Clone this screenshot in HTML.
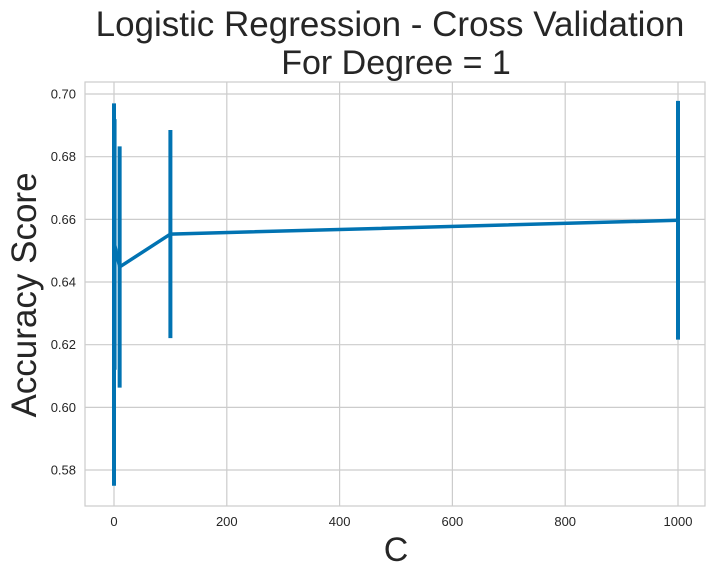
<!DOCTYPE html>
<html><head><meta charset="utf-8"><style>
body{margin:0;background:#fff;}
svg{display:block;font-family:"Liberation Sans",sans-serif;}
</style></head><body>
<svg id="chart" width="715" height="578">
<rect x="85" y="82" width="620" height="424" fill="#fff" stroke="#ccc" stroke-width="1.2"/>
<g id="grid"></g>
<g id="marks"></g>
<text x="390" y="36" font-size="35" text-anchor="middle" fill="#262626">Logistic Regression - Cross Validation</text>
<text x="396" y="74" font-size="34" text-anchor="middle" fill="#262626">For Degree = 1</text>
<text x="396" y="561" font-size="34" text-anchor="middle" fill="#262626">C</text>
<text transform="translate(36,295) rotate(-90)" font-size="35" text-anchor="middle" fill="#262626">Accuracy Score</text>
</svg>
<script>
const cValues=[0.001,0.01,0.1,1,10,100,1000];
const meanScores=[0.636,0.646,0.657,0.652,0.6448,0.6553,0.6597];
const errScores=[0.061,0.05,0.035,0.04,0.0385,0.0332,0.0381];
const xTicks=[0,200,400,600,800,1000];
const yTicks=[0.58,0.60,0.62,0.64,0.66,0.68,0.70];
const NS='http://www.w3.org/2000/svg';
function xs(v){return 114+(v/1000)*564;}
function ys(v){return 94+(0.70-v)/0.02*62.67;}
const grid=document.getElementById('grid'),marks=document.getElementById('marks');
function mk(tag,attrs,parent){const e=document.createElementNS(NS,tag);for(const k in attrs)e.setAttribute(k,attrs[k]);parent.appendChild(e);return e;}
xTicks.forEach(t=>{
 const l=mk('line',{x1:xs(t),x2:xs(t),y1:82,y2:506,stroke:'#ccc','stroke-width':1.2},grid);
 
 
 const tx=mk('text',{x:xs(t),y:526,'font-size':13,'text-anchor':'middle',fill:'#262626'},grid);
 tx.textContent=t;
 
 
});
yTicks.forEach(t=>{
 const l=mk('line',{x1:85,x2:705,y1:ys(t),y2:ys(t),stroke:'#ccc','stroke-width':1.2},grid);
 
 
 const tx=mk('text',{x:76,y:ys(t)+4.5,'font-size':13,'text-anchor':'end',fill:'#262626'},grid);
 tx.textContent=t.toFixed(2);
 
 
});
cValues.forEach((c,i)=>{
 const b=mk('line',{x1:xs(c),x2:xs(c),y1:ys(meanScores[i]+errScores[i]),y2:ys(meanScores[i]-errScores[i]),stroke:'#0173b2','stroke-width':4},marks);
 
 
});
const p=mk('polyline',{points:cValues.map((c,i)=>xs(c)+','+ys(meanScores[i])).join(' '),fill:'none',stroke:'#0173b2','stroke-width':3.5},marks);


</script>
</body></html>
